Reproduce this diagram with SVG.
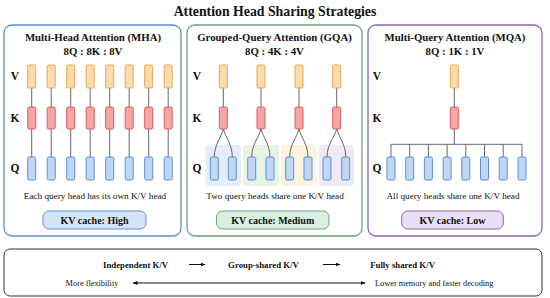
<svg xmlns="http://www.w3.org/2000/svg" width="550" height="298" viewBox="0 0 550 298">
<style>
text{font-family:"Liberation Serif","Times New Roman",serif;fill:#111}
.title{font-size:13.8px;font-weight:bold}
.ptitle{font-size:10.8px;font-weight:bold}
.row{font-size:11.5px;font-weight:bold}
.cap{font-size:9.2px}
.kv{font-size:10px;font-weight:bold}
.b1{font-size:8.8px;font-weight:bold}
.b2{font-size:8.3px}
.v{fill:#fcdcae;stroke:#e9a550;stroke-width:1}
.k{fill:#f7a6a6;stroke:#de5a5a;stroke-width:1}
.q{fill:#bfd7f4;stroke:#5b8fd6;stroke-width:1}
.ln{stroke:#666;stroke-width:1;fill:none}
.panel{fill:#fff;stroke-width:1.3}
</style>
<defs>
<marker id="ah" viewBox="0 0 10 10" refX="9" refY="5" markerWidth="5" markerHeight="5" orient="auto-start-reverse"><path d="M0,1 L10,5 L0,9 Z" fill="#111"/></marker>
</defs>
<rect width="550" height="298" fill="#fff"/>
<text class="title" x="275" y="15.5" text-anchor="middle">Attention Head Sharing Strategies</text>

<g id="mha">
<rect class="panel" x="4" y="25" width="177" height="211" rx="8" stroke="#5b8fd0"/>
<text class="ptitle" x="93" y="41" text-anchor="middle">Multi-Head Attention (MHA)</text>
<text class="ptitle" x="93" y="55" text-anchor="middle">8Q : 8K : 8V</text>
<text class="row" x="15" y="80" text-anchor="middle">V</text>
<text class="row" x="15" y="122" text-anchor="middle">K</text>
<text class="row" x="15" y="172" text-anchor="middle">Q</text>
<g class="ln">
<path d="M31.7,88V107M31.7,129V157M51.2,88V107M51.2,129V157M70.7,88V107M70.7,129V157M90.2,88V107M90.2,129V157M109.7,88V107M109.7,129V157M129.2,88V107M129.2,129V157M148.7,88V107M148.7,129V157M168.2,88V107M168.2,129V157"/>
</g>
<g>
<rect class="v" x="27.7" y="65" width="8" height="23" rx="1.5"/><rect class="v" x="47.2" y="65" width="8" height="23" rx="1.5"/><rect class="v" x="66.7" y="65" width="8" height="23" rx="1.5"/><rect class="v" x="86.2" y="65" width="8" height="23" rx="1.5"/><rect class="v" x="105.7" y="65" width="8" height="23" rx="1.5"/><rect class="v" x="125.2" y="65" width="8" height="23" rx="1.5"/><rect class="v" x="144.7" y="65" width="8" height="23" rx="1.5"/><rect class="v" x="164.2" y="65" width="8" height="23" rx="1.5"/>
<rect class="k" x="27.7" y="107" width="8" height="22" rx="1.5"/><rect class="k" x="47.2" y="107" width="8" height="22" rx="1.5"/><rect class="k" x="66.7" y="107" width="8" height="22" rx="1.5"/><rect class="k" x="86.2" y="107" width="8" height="22" rx="1.5"/><rect class="k" x="105.7" y="107" width="8" height="22" rx="1.5"/><rect class="k" x="125.2" y="107" width="8" height="22" rx="1.5"/><rect class="k" x="144.7" y="107" width="8" height="22" rx="1.5"/><rect class="k" x="164.2" y="107" width="8" height="22" rx="1.5"/>
<rect class="q" x="27.7" y="157" width="8" height="23" rx="1.5"/><rect class="q" x="47.2" y="157" width="8" height="23" rx="1.5"/><rect class="q" x="66.7" y="157" width="8" height="23" rx="1.5"/><rect class="q" x="86.2" y="157" width="8" height="23" rx="1.5"/><rect class="q" x="105.7" y="157" width="8" height="23" rx="1.5"/><rect class="q" x="125.2" y="157" width="8" height="23" rx="1.5"/><rect class="q" x="144.7" y="157" width="8" height="23" rx="1.5"/><rect class="q" x="164.2" y="157" width="8" height="23" rx="1.5"/>
</g>
<text class="cap" x="95" y="199" text-anchor="middle">Each query head has its own K/V head</text>
<rect x="43" y="211" width="103" height="18" rx="6" fill="#d5e5f8" stroke="#5b8fd0" stroke-width="1"/>
<text class="kv" x="94.5" y="223.5" text-anchor="middle">KV cache: High</text>
</g>

<g id="gqa">
<rect class="panel" x="187" y="25" width="175" height="211" rx="8" stroke="#6aa383"/>
<text class="ptitle" x="274.5" y="41" text-anchor="middle">Grouped-Query Attention (GQA)</text>
<text class="ptitle" x="274.5" y="55" text-anchor="middle">8Q : 4K : 4V</text>
<text class="row" x="197" y="80" text-anchor="middle">V</text>
<text class="row" x="197" y="122" text-anchor="middle">K</text>
<text class="row" x="197" y="172" text-anchor="middle">Q</text>
<rect x="205.5" y="145" width="35.5" height="41" rx="4" fill="#dde9f8" opacity="0.8"/>
<rect x="243" y="145" width="36" height="41" rx="4" fill="#e2f0dd" opacity="0.8"/>
<rect x="281" y="145" width="35.5" height="41" rx="4" fill="#fbf0d6" opacity="0.8"/>
<rect x="319" y="145" width="35" height="41" rx="4" fill="#ece4f4" opacity="0.8"/>
<g class="ln">
<path d="M223.3,88V107M261,88V107M299,88V107M336.7,88V107"/>
<path d="M223.3,129C221,138 214.3,145 214.3,157M223.3,129C226,138 232.3,145 232.3,157"/>
<path d="M261,129C258.5,138 251.7,145 251.7,157M261,129C263.5,138 270,145 270,157"/>
<path d="M299,129C296.5,138 289.7,145 289.7,157M299,129C301.5,138 308,145 308,157"/>
<path d="M336.7,129C334,138 327,145 327,157M336.7,129C339.5,138 345.7,145 345.7,157"/>
</g>
<rect class="v" x="219.3" y="65" width="8" height="23" rx="1.5"/><rect class="v" x="257" y="65" width="8" height="23" rx="1.5"/><rect class="v" x="295" y="65" width="8" height="23" rx="1.5"/><rect class="v" x="332.7" y="65" width="8" height="23" rx="1.5"/>
<rect class="k" x="219.3" y="107" width="8" height="22" rx="1.5"/><rect class="k" x="257" y="107" width="8" height="22" rx="1.5"/><rect class="k" x="295" y="107" width="8" height="22" rx="1.5"/><rect class="k" x="332.7" y="107" width="8" height="22" rx="1.5"/>
<rect class="q" x="210.3" y="157" width="8" height="23" rx="1.5"/><rect class="q" x="228.3" y="157" width="8" height="23" rx="1.5"/><rect class="q" x="247.7" y="157" width="8" height="23" rx="1.5"/><rect class="q" x="266" y="157" width="8" height="23" rx="1.5"/><rect class="q" x="285.7" y="157" width="8" height="23" rx="1.5"/><rect class="q" x="304" y="157" width="8" height="23" rx="1.5"/><rect class="q" x="323" y="157" width="8" height="23" rx="1.5"/><rect class="q" x="341.7" y="157" width="8" height="23" rx="1.5"/>
<text class="cap" x="275" y="199" text-anchor="middle">Two query heads share one K/V head</text>
<rect x="216.5" y="211" width="112.5" height="18" rx="6" fill="#d9efdf" stroke="#6aa383" stroke-width="1"/>
<text class="kv" x="272.7" y="223.5" text-anchor="middle">KV cache: Medium</text>
</g>

<g id="mqa">
<rect class="panel" x="368" y="25" width="174" height="211" rx="8" stroke="#8e64b0"/>
<text class="ptitle" x="455" y="41" text-anchor="middle">Multi-Query Attention (MQA)</text>
<text class="ptitle" x="455" y="55" text-anchor="middle">8Q : 1K : 1V</text>
<text class="row" x="377" y="80" text-anchor="middle">V</text>
<text class="row" x="377" y="122" text-anchor="middle">K</text>
<text class="row" x="377" y="172" text-anchor="middle">Q</text>
<g class="ln">
<path d="M454.3,88V107M454.3,129V144.3M391,144.3H522M391,144.3V157M409.7,144.3V157M428.4,144.3V157M447.1,144.3V157M465.8,144.3V157M484.5,144.3V157M503.2,144.3V157M522,144.3V157"/>
</g>
<rect class="v" x="450.3" y="65" width="8" height="23" rx="1.5"/>
<rect class="k" x="450.3" y="107" width="8" height="22" rx="1.5"/>
<rect class="q" x="387" y="157" width="8" height="23" rx="1.5"/><rect class="q" x="405.7" y="157" width="8" height="23" rx="1.5"/><rect class="q" x="424.4" y="157" width="8" height="23" rx="1.5"/><rect class="q" x="443.1" y="157" width="8" height="23" rx="1.5"/><rect class="q" x="461.8" y="157" width="8" height="23" rx="1.5"/><rect class="q" x="480.5" y="157" width="8" height="23" rx="1.5"/><rect class="q" x="499.2" y="157" width="8" height="23" rx="1.5"/><rect class="q" x="518" y="157" width="8" height="23" rx="1.5"/>
<text class="cap" x="453" y="199" text-anchor="middle">All query heads share one K/V head</text>
<rect x="401.7" y="211" width="101.6" height="18" rx="6" fill="#e9dff4" stroke="#8e64b0" stroke-width="1"/>
<text class="kv" x="452.5" y="223.5" text-anchor="middle">KV cache: Low</text>
</g>

<g id="summary">
<rect x="4" y="249" width="538" height="47" rx="6" fill="#fff" stroke="#333" stroke-width="1"/>
<text class="b1" x="135.6" y="267.5" text-anchor="middle">Independent K/V</text>
<text class="b1" x="263.5" y="267.5" text-anchor="middle">Group-shared K/V</text>
<text class="b1" x="402.6" y="267.5" text-anchor="middle">Fully shared K/V</text>
<text class="b2" x="92" y="286" text-anchor="middle">More flexibility</text>
<text class="b2" x="375" y="286">Lower memory and faster decoding</text>
</g>
<g id="connectors" stroke="#111" stroke-width="1" fill="none">
<line x1="189" y1="264.5" x2="205" y2="264.5" marker-end="url(#ah)"/>
<line x1="323" y1="264.5" x2="340" y2="264.5" marker-end="url(#ah)"/>
<line x1="133" y1="283" x2="365" y2="283" marker-start="url(#ah)" marker-end="url(#ah)"/>
</g>
</svg>
